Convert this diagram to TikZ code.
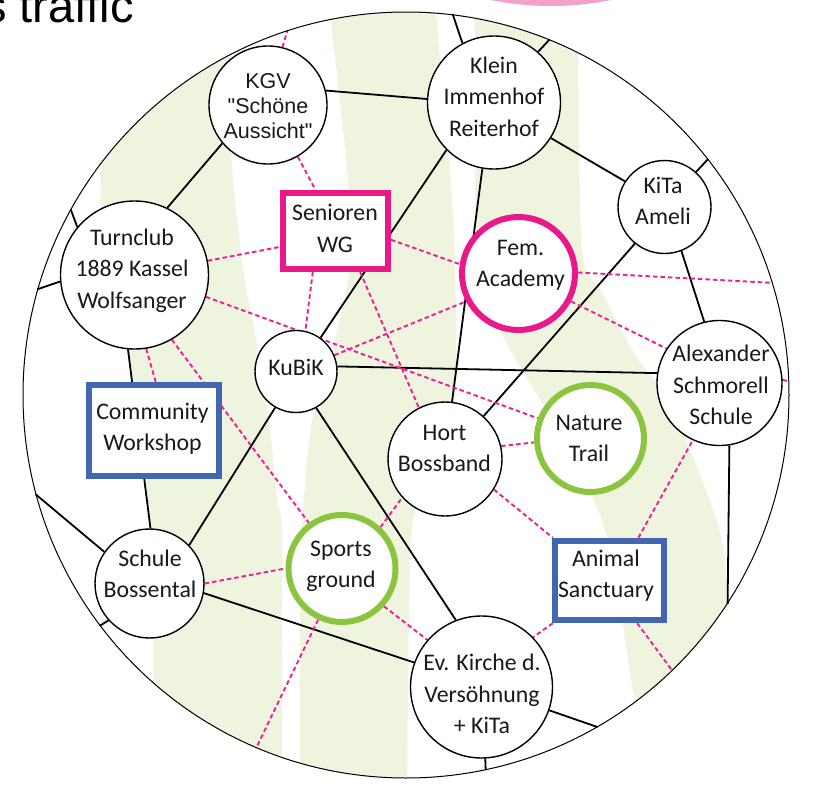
\documentclass[tikz,border=0pt]{standalone}
\usepackage{fontspec}
\newfontfamily\carlito{Carlito}
\newfontfamily\lsans{Liberation Sans}
\definecolor{cBand}{RGB}{239,244,223}
\definecolor{cMag}{RGB}{233,25,140}
\definecolor{cPink}{RGB}{236,32,146}
\definecolor{cBlue}{RGB}{66,102,176}
\definecolor{cGreen}{RGB}{139,197,63}
\definecolor{cBlob}{RGB}{242,162,201}
\newcommand\mlines[1]{\begin{tabular}[t]{@{}c@{}}#1\end{tabular}}
\pgfdeclarelayer{bg}
\pgfsetlayers{bg,main}
\begin{document}
\begin{tikzpicture}[x=1pt,y=-1pt,
  plaincirc/.style={circle, draw=black, line width=1.4pt, fill=white, inner sep=0pt},
  magcirc/.style={circle, draw=cMag, line width=6pt, fill=white, inner sep=0pt},
  grncirc/.style={circle, draw=cGreen, line width=6pt, fill=white, inner sep=0pt},
  magrect/.style={rectangle, draw=cMag, line width=6pt, fill=white, inner sep=0pt},
  blurect/.style={rectangle, draw=cBlue, line width=6.5pt, fill=white, inner sep=0pt},
  blkline/.style={draw=black, line width=1.8pt},
  pdash/.style={draw=cPink, line width=1.9pt, dash pattern=on 4.5pt off 3pt},
  lbl/.style={font=\carlito\fontsize{23.8}{31.5}\selectfont, anchor=base, inner sep=0pt, text=black!90},
  lblA/.style={font=\lsans\fontsize{21.5}{25}\selectfont, anchor=base, inner sep=0pt, text=black!90}]
\useasboundingbox (0,0) rectangle (831,795);
\clip (0,0) rectangle (831,795);

% title and blob
\fill[cBlob] (551,-66) ellipse [x radius=150, y radius=72];
\node[font=\lsans\fontsize{47}{50}\selectfont, anchor=base east, inner sep=0pt] (title) at (134,22) {s traffic};

% ring
\node[circle, draw=black, line width=1pt, minimum size=766pt, inner sep=0pt] (ring) at (406,395) {};

% nodes
\node[plaincirc, minimum size=118pt] (kgv) at (268,105) {};
\node[plaincirc, minimum size=133pt] (klein) at (494,102.5) {};
\node[plaincirc, minimum size=93pt] (kita) at (664.5,207) {};
\node[plaincirc, minimum size=148pt] (turn) at (134.5,275) {};
\node[magrect, minimum width=105pt, minimum height=76pt] (sen) at (335.5,231) {};
\node[plaincirc, minimum size=82pt] (kubik) at (296,371.5) {};
\node[blurect, minimum width=130pt, minimum height=91pt] (comm) at (154,430.5) {};
\node[magcirc, minimum size=113pt] (fem) at (518.5,273.5) {};
\node[plaincirc, minimum size=125pt] (alex) at (719.5,383) {};
\node[plaincirc, minimum size=114pt] (hort) at (445,459) {};
\node[grncirc, minimum size=107pt] (nature) at (590.5,438.5) {};
\node[grncirc, minimum size=107pt] (sports) at (342,568.5) {};
\node[plaincirc, minimum size=109pt] (boss) at (149.5,583.5) {};
\node[blurect, minimum width=109pt, minimum height=79pt] (animal) at (609.5,580.5) {};
\node[plaincirc, minimum size=142pt] (kirche) at (481.5,687) {};

% texts
\node[lblA] (kgvT) at (268,88.3) {\mlines{KGV\\"Schöne\\Aussicht"}};
\node[lbl] (kleinT) at (494,73.3) {\mlines{Klein\\Immenhof\\Reiterhof}};
\node[lbl] (kitaT) at (663,193) {\mlines{KiTa\\Ameli}};
\node[lbl] (turnT) at (132,245) {\mlines{Turnclub\\1889 Kassel\\Wolfsanger}};
\node[lbl] (senT) at (335,220.7) {\mlines{Senioren\\WG}};
\node[lbl] (femT) at (520.5,255) {\mlines{Fem.\\Academy}};
\node[lbl] (kubikT) at (296,375) {KuBiK};
\node[lbl] (commT) at (152.5,419) {\mlines{Community\\Workshop}};
\node[lbl] (alexT) at (721,361.7) {\mlines{Alexander\\Schmorell\\Schule}};
\node[lbl] (hortT) at (444.5,440) {\mlines{Hort\\Bossband}};
\node[lbl] (natureT) at (589,430) {\mlines{Nature\\Trail}};
\node[lbl] (sportsT) at (341,556) {\mlines{Sports\\ground}};
\node[lbl] (bossT) at (150,566) {\mlines{Schule\\Bossental}};
\node[lbl] (animalT) at (606,566) {\mlines{Animal\\Sanctuary}};
\node[lbl] (kircheT) at (482,670.7) {\mlines{Ev. Kirche d.\\Versöhnung\\+ KiTa}};

\begin{pgfonlayer}{bg}
\begin{scope}
\clip (406,395) circle[radius=383];
\fill[cBand] plot[smooth] coordinates {(98,0) (100,160) (104,265) (118,320) (127,350) (138,430) (146,480) (152,560) (153,650) (153,800)}
  -- plot[smooth] coordinates {(282,800) (282,640) (282,530) (277,497) (270,430) (258,350) (245,280) (233,180) (230,100) (228,0)} -- cycle;
\fill[cBand] plot[smooth] coordinates {(328,0) (333,40) (348,180) (350,265) (335,340) (312,420) (302,530) (300,650) (300,800)}
  -- plot[smooth] coordinates {(407,800) (409,620) (413,520) (432,465) (455,400) (455,265) (450,170) (440,60) (435,0)} -- cycle;
\fill[cBand] plot[smooth] coordinates {(473,0) (475,40) (477,265) (500,330) (528,380) (570,450) (605,530) (622,620) (640,740)}
  -- plot[smooth] coordinates {(740,740) (732,660) (728,600) (722,540) (702,480) (668,400) (634,353) (601,290) (582,250) (578,40) (578,0)} -- cycle;
\end{scope}

% black connectors
\draw[blkline] (kgv.14) -- (klein.177);
\draw[blkline] (kgv.220) -- (turn.64.5);
\draw[blkline] (turn.140) -- (ring.151.4);
\draw[blkline] (turn.185) -- (ring.164.6);
\draw[blkline] (turn.265.4) -- (boss.89.5);
\draw[blkline] (ring.195.1) -- (boss.145.9);
\draw[blkline] (boss.222.7) -- (ring.217.3);
\draw[blkline] (boss.44.3) -- (kubik.240.4);
\draw[blkline] (boss.350.1) -- (kirche.160);
\draw[blkline] (kubik.299.6) -- (kirche.111);
\draw[blkline] (kubik.54.8) -- (klein.225.6);
\draw[blkline] (kubik.7) -- (alex.171);
\draw[blkline] (klein.260.7) -- (hort.83);
\draw[blkline] (klein.328.9) -- (kita.147.3);
\draw[blkline] (klein.118) -- (ring.83.9);
\draw[blkline] (klein.49.3) -- (ring.68.4);
\draw[blkline] (kita.48.5) -- (ring.38.1);
\draw[blkline] (kita.231.7) -- (hort.48.5);
\draw[blkline] (kita.291) -- (alex.104.3);
\draw[blkline] (alex.279.5) -- (ring.327.8);
\draw[blkline] (kirche.341.7) -- (ring.300);
\draw[blkline] (kirche.273.6) -- (ring.282);

% pink dashed connectors
\draw[pdash] (kgv.76.4) -- (ring.108.4);
\draw[pdash] (kgv.300.2) -- (sen.116.6);
\draw[pdash] (turn.11) -- (sen.196.2);
\draw[pdash] (turn.343.7) -- (nature.159.2);
\draw[pdash] (sen.241.2) -- (kubik.77.6);
\draw[pdash] (sen.351) -- (fem.171.7);
\draw[pdash] (sen.301) -- (hort.117);
\draw[pdash] (kubik.23.4) -- (fem.208);
\draw[pdash] (fem.332.4) -- (alex.147.8);
\draw[pdash] (fem.1.4) -- (ring.17.5);
\draw[pdash] (alex.3.7) -- (ring.2.4);
\draw[pdash] (hort.13.8) -- (nature.184.5);
\draw[pdash] (turn.300.3) -- (sports.126.2);
\draw[pdash] (turn.279) -- (comm.88.8);
\draw[pdash] (boss.0.5) -- (sports.180.5);
\draw[pdash] (sports.245) -- (ring.247.5);
\draw[pdash] (sports.47.5) -- (hort.222.9);
\draw[pdash] (sports.318.2) -- (kirche.139.2);
\draw[pdash] (hort.328.2) -- (animal.143);
\draw[pdash] (animal.217.6) -- (kirche.44.2);
\draw[pdash] (animal.56.8) -- (alex.245.4);
\draw[pdash] (animal.303.3) -- (ring.314.2);
\end{pgfonlayer}
\end{tikzpicture}
\end{document}
